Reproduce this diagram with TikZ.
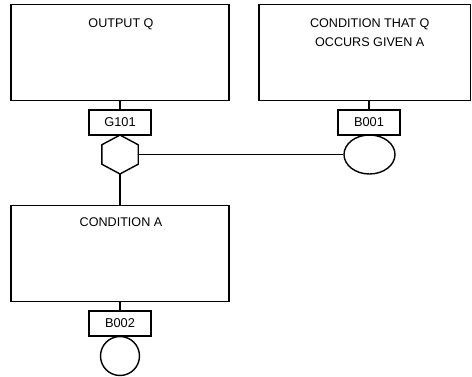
\documentclass[tikz,border=0pt]{standalone}
\usepackage{fontspec}
\setmainfont{Liberation Sans}
\usetikzlibrary{shapes.geometric,calc}
\begin{document}
\begin{tikzpicture}[x=1pt,y=-1pt,
  bigbox/.style={draw, line width=1.8pt, minimum width=218pt, minimum height=96pt, inner sep=0pt},
  tagbox/.style={draw, line width=1.4pt, minimum width=62pt, minimum height=25pt, inner sep=0pt, font=\fontsize{12.8}{15}\selectfont},
  txt/.style={font=\fontsize{12.6}{19}\selectfont, inner sep=0pt, anchor=base, align=center},
  wire/.style={line width=1.3pt},
  evt/.style={draw, line width=1.4pt, inner sep=0pt}]
\useasboundingbox (0,0) rectangle (472,377);

% main boxes
\node[bigbox] (q) at (120,52.5) {};
\node[bigbox, minimum width=211.5pt] (cq) at (364.75,52.5) {};
\node[bigbox] (a) at (120,253.5) {};

\node[txt] (qt) at ($(q.north)+(1,24)$) {OUTPUT Q};
\node[txt] (cqt) at ($(cq.north)+(5,43.4)$) {CONDITION THAT Q\\OCCURS GIVEN A};
\node[txt] (at) at ($(a.north)+(1,21.5)$) {CONDITION A};

% tag boxes
\node[tagbox] (g101) at (120,122.5) {G101};
\node[tagbox] (b001) at (369,122.5) {B001};
\node[tagbox] (b002) at (120,323.5) {B002};

% hexagon gate
\node[minimum width=36pt, minimum height=38.5pt, inner sep=0pt] (hex) at (120,154.5) {};
\draw[evt] (hex.north)
  -- ($(hex.north east)!.25!(hex.south east)$)
  -- ($(hex.north east)!.75!(hex.south east)$)
  -- (hex.south)
  -- ($(hex.north west)!.75!(hex.south west)$)
  -- ($(hex.north west)!.25!(hex.south west)$)
  -- cycle;

% events
\node[evt, ellipse, minimum width=51pt, minimum height=39pt] (e1) at (369.5,154.5) {};
\node[evt, circle, minimum size=39pt] (e2) at (120,356) {};

% connectors
\draw[wire] (q.south) -- (g101.north);
\draw[wire] (cq.south -| b001.north) -- (b001.north);
\draw[wire] (a.south) -- (b002.north);
\draw[wire] (hex.east) -- (e1.west);
\draw[wire] (hex.south) -- (a.north);
\end{tikzpicture}
\end{document}
